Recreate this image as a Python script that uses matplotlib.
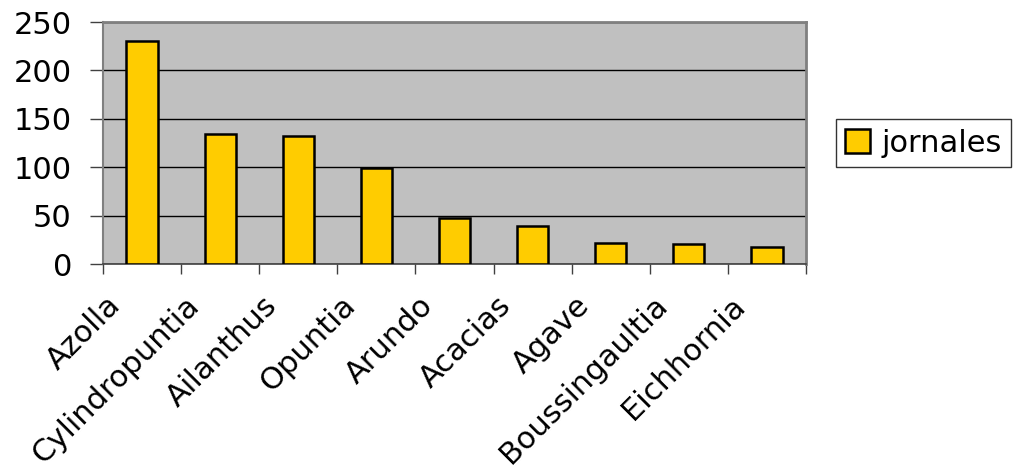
import numpy as np
import matplotlib.pyplot as plt
import matplotlib.transforms as mtransforms
from matplotlib.ticker import FixedLocator

plt.rcParams['font.family'] = ['DejaVu Sans']

species = ['Azolla', 'Cylindropuntia', 'Ailanthus', 'Opuntia', 'Arundo',
           'Acacias', 'Agave', 'Boussingaultia', 'Eichhornia']
jornales = [230, 134, 132, 99, 48, 39, 22, 21, 18]
yticks = [0, 50, 100, 150, 200, 250]

fig = plt.figure(figsize=(10.18, 4.72), dpi=100)
ax = fig.add_axes([103 / 1018, 1 - 264 / 472, 703 / 1018, 242 / 472])

x = np.arange(len(species))
ax.bar(x, jornales, width=0.4, color='#FFCC00', edgecolor='black',
       linewidth=1.8, label='jornales', zorder=3)

ax.set_facecolor('#C0C0C0')
ax.set_xlim(-0.5, len(species) - 0.5)
ax.set_ylim(0, 250)
ax.set_yticks(yticks)
ax.yaxis.grid(True, color='black', linewidth=1.0, zorder=1)
ax.set_axisbelow(True)

# category labels at centres, tick marks at boundaries
ax.set_xticks(x)
ax.set_xticklabels(species, rotation=45, ha='right', va='center',
                   rotation_mode='anchor', fontsize=22)
ax.tick_params(axis='x', length=0, pad=0)
shift = mtransforms.ScaledTranslation(-0.26, -0.37, fig.dpi_scale_trans)
for lab in ax.get_xticklabels():
    lab.set_transform(lab.get_transform() + shift)
ax.xaxis.set_minor_locator(FixedLocator(np.arange(-0.5, len(species), 1)))
ax.tick_params(axis='x', which='minor', length=7, width=1, color='#404040')
ax.tick_params(axis='y', length=9.4, width=1, labelsize=22, pad=13, color='#404040')

for s in ['top', 'right']:
    ax.spines[s].set_color('#808080')
    ax.spines[s].set_linewidth(2)
ax.spines['left'].set_color('#808080')
ax.spines['left'].set_linewidth(1.5)
ax.spines['bottom'].set_color('#404040')
ax.spines['bottom'].set_linewidth(1.2)

leg = ax.legend(loc='center left', bbox_to_anchor=(836 / 1018, 1 - 143 / 472),
                bbox_transform=fig.transFigure, fontsize=22, frameon=True,
                fancybox=False, edgecolor='black', handlelength=0.8,
                handleheight=0.8, handletextpad=0.4, borderpad=0.3,
                borderaxespad=0)
leg.get_frame().set_linewidth(1.0)

fig.savefig('out.png', dpi=100)
